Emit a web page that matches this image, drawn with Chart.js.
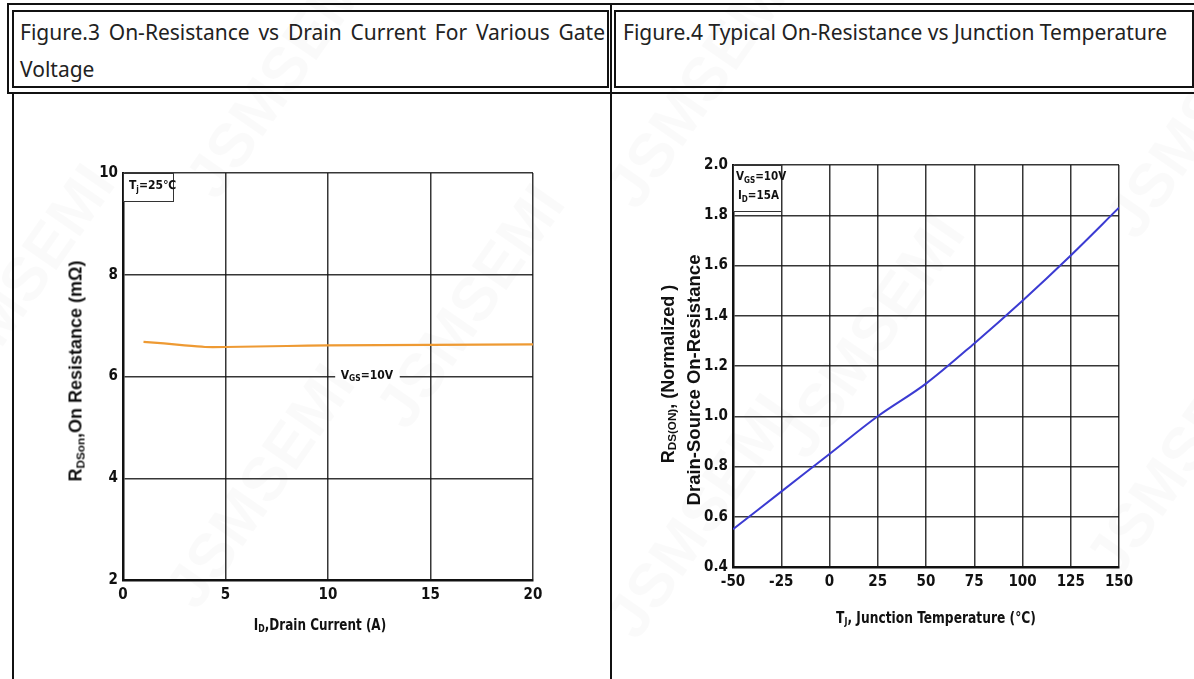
<!DOCTYPE html>
<html>
<head>
<meta charset="utf-8">
<script src="https://cdn.jsdelivr.net/npm/chart.js@4.4.1/dist/chart.umd.min.js"></script>
<style>
  html, body { margin: 0; padding: 0; background: #fff; }
  body { width: 1194px; height: 679px; position: relative; overflow: hidden; font-family: 'Noto Sans', 'Open Sans', sans-serif; }
  .box { position: absolute; border: 2px solid #111; box-sizing: border-box; }
  .line { position: absolute; background: #111; }
  .head { position: absolute; font-size: 21px; color: #222; line-height: 37px; }
  canvas { position: absolute; }
  .ttl { position: absolute; font-weight: bold; color: #111; white-space: nowrap; }
  .narrow { font-family: 'Liberation Sans Narrow', 'DejaVu Sans Condensed', 'Liberation Sans', sans-serif; }
  .wide { font-family: 'Liberation Sans', Arial, sans-serif; }
  .ttl sub { font-size: 65%; vertical-align: -0.25em; }
  .rot { transform: translate(-50%, -50%) rotate(-90deg); }
  .wm { position: absolute; font: bold 62px 'Liberation Sans', sans-serif; color: rgba(0,0,0,0.02); transform: rotate(-55deg); white-space: nowrap; }
</style>
</head>
<body>
<!-- watermarks -->
<div class="wm" style="left:140px;top:40px;">JSMSEMI</div>
<div class="wm" style="left:-120px;top:250px;">JSMSEMI</div>
<div class="wm" style="left:330px;top:270px;">JSMSEMI</div>
<div class="wm" style="left:120px;top:450px;">JSMSEMI</div>
<div class="wm" style="left:560px;top:50px;">JSMSEMI</div>
<div class="wm" style="left:730px;top:300px;">JSMSEMI</div>
<div class="wm" style="left:560px;top:480px;">JSMSEMI</div>
<div class="wm" style="left:1060px;top:80px;">JSMSEMI</div>
<div class="wm" style="left:1040px;top:420px;">JSMSEMI</div>

<!-- frame -->
<div class="box" style="left:7px;top:3px;width:1200px;height:91px;"></div>
<div class="box" style="left:12px;top:10px;width:597px;height:78px;"></div>
<div class="box" style="left:614px;top:10px;width:580px;height:78px;"></div>
<div class="line" style="left:610px;top:3px;width:2px;height:91px;"></div>
<div class="line" style="left:12px;top:94px;width:2px;height:585px;"></div>
<div class="line" style="left:610px;top:94px;width:2px;height:585px;"></div>

<div class="head" style="left:20px;top:14px;width:585px;text-align:justify;text-align-last:left;">Figure.3 On-Resistance vs Drain Current For Various Gate Voltage</div>
<div class="head" style="left:623px;top:14px;">Figure.4 Typical On-Resistance vs Junction Temperature</div>

<canvas id="grafico1" width="590" height="579" style="left:15px;top:100px;"></canvas>
<canvas id="grafico2" width="579" height="579" style="left:615px;top:100px;"></canvas>

<!-- axis titles -->
<div class="ttl narrow" style="left:320px;top:625px;font-size:15.5px;transform:translate(-50%,-50%) scaleX(0.86);">I<sub>D</sub>,Drain Current (A)</div>
<div class="ttl wide rot" style="left:76px;top:371px;font-size:18px;">R<sub>DSon</sub>,On Resistance (mΩ)</div>
<div class="ttl narrow" style="left:936px;top:618px;font-size:15.5px;transform:translate(-50%,-50%) scaleX(0.88);">T<sub>J</sub>, Junction Temperature (°C)</div>
<div class="ttl wide rot" style="left:668px;top:374px;font-size:18px;">R<sub>DS(ON)</sub>, (Normalized )</div>
<div class="ttl wide rot" style="left:694px;top:380px;font-size:18.5px;">Drain-Source On-Resistance</div>

<script>
// Fig.3 - Rds(on) x corrente de dreno
const correnteDreno = [1, 2, 3, 4, 5, 8, 10, 15, 20];
const rdsOnVgs10 = [6.68, 6.65, 6.61, 6.58, 6.58, 6.60, 6.61, 6.62, 6.63];
const ticksX1 = [0, 5, 10, 15, 20];
const ticksY1 = [2, 4, 6, 8, 10];

// Fig.4 - Rds(on) normalizado x temperatura de junção
const tempJuncao = [-50, -25, 0, 25, 50, 75, 100, 125, 150];
const rdsNormalizado = [0.55, 0.70, 0.85, 1.00, 1.13, 1.29, 1.46, 1.64, 1.83];
const ticksX2 = [-50, -25, 0, 25, 50, 75, 100, 125, 150];
const ticksY2 = [0.4, 0.6, 0.8, 1.0, 1.2, 1.4, 1.6, 1.8, 2.0];

const fonteEixo = { family: "'Liberation Sans Narrow', 'DejaVu Sans Condensed', sans-serif", size: 15, weight: 'bold' };
const corGrade = 'rgba(20,20,20,0.85)';

// escreve texto com partes subscritas no canvas
function textoSub(ctx, partes, x, y, tam, alinhar) {
    const fam = "'Liberation Sans Narrow', 'DejaVu Sans Condensed', sans-serif";
    let largura = 0;
    partes.forEach(p => {
        ctx.font = 'bold ' + (p.sub ? tam * 0.7 : tam) + 'px ' + fam;
        largura += ctx.measureText(p.t).width;
    });
    let cx = alinhar === 'center' ? x - largura / 2 : x;
    ctx.textBaseline = 'middle';
    ctx.textAlign = 'left';
    ctx.fillStyle = '#111';
    partes.forEach(p => {
        ctx.font = 'bold ' + (p.sub ? tam * 0.7 : tam) + 'px ' + fam;
        ctx.fillText(p.t, cx, p.sub ? y + tam * 0.3 : y);
        cx += ctx.measureText(p.t).width;
    });
}

function eixos(xMin, xMax, ticksX, yMin, yMax, ticksY, largY, decimais) {
    return {
        x: {
            type: 'linear', min: xMin, max: xMax,
            afterBuildTicks: s => { s.ticks = ticksX.map(v => ({ value: v })); },
            afterFit: s => { s.height = 30; },
            grid: { color: corGrade, lineWidth: 1.5, drawTicks: false },
            border: { color: '#111', width: 2.5 },
            ticks: { color: '#111', font: fonteEixo, padding: 6, maxRotation: 0 }
        },
        y: {
            type: 'linear', min: yMin, max: yMax,
            afterBuildTicks: s => { s.ticks = ticksY.map(v => ({ value: v })); },
            afterFit: s => { s.width = largY; },
            grid: { color: corGrade, lineWidth: 1.5, drawTicks: false },
            border: { color: '#111', width: 2.5 },
            ticks: { color: '#111', font: fonteEixo, padding: 5, callback: v => v.toFixed(decimais) }
        }
    };
}

const notasFig3 = {
    id: 'notasFig3',
    afterDatasetsDraw(chart) {
        const { ctx, chartArea: a, scales: { x, y } } = chart;
        ctx.save();
        // caixa Tj
        ctx.fillStyle = '#fff';
        ctx.fillRect(a.left + 1, a.top + 1, 50, 28);
        ctx.strokeStyle = '#333';
        ctx.lineWidth = 1;
        ctx.strokeRect(a.left + 0.5, a.top + 0.5, 50, 28);
        textoSub(ctx, [{ t: 'T' }, { t: 'j', sub: true }, { t: '=25℃' }], a.left + 6, a.top + 13, 12, 'left');
        // rótulo Vgs sobre a linha de 6
        const yy = y.getPixelForValue(6);
        ctx.fillStyle = '#fff';
        ctx.fillRect(x.getPixelForValue(10.35), yy - 3, x.getPixelForValue(13.5) - x.getPixelForValue(10.35), 6);
        textoSub(ctx, [{ t: 'V' }, { t: 'GS', sub: true }, { t: '=10V' }], x.getPixelForValue(11.9), yy - 1, 12, 'center');
        ctx.restore();
    }
};

const notasFig4 = {
    id: 'notasFig4',
    afterDatasetsDraw(chart) {
        const { ctx, chartArea: a } = chart;
        ctx.save();
        ctx.fillStyle = '#fff';
        ctx.fillRect(a.left + 1, a.top + 1, 48, 46);
        ctx.strokeStyle = '#333';
        ctx.lineWidth = 1;
        ctx.strokeRect(a.left + 0.5, a.top + 0.5, 48, 46);
        textoSub(ctx, [{ t: 'V' }, { t: 'GS', sub: true }, { t: '=10V' }], a.left + 3, a.top + 12, 11.5, 'left');
        textoSub(ctx, [{ t: 'I' }, { t: 'D', sub: true }, { t: '=15A' }], a.left + 5, a.top + 31, 11.5, 'left');
        ctx.restore();
    }
};

new Chart(document.getElementById('grafico1').getContext('2d'), {
    type: 'line',
    data: {
        datasets: [{
            data: correnteDreno.map((x, i) => ({ x, y: rdsOnVgs10[i] })),
            borderColor: '#ee9a33',
            borderWidth: 2.2,
            pointRadius: 0,
            fill: false,
            tension: 0.2
        }]
    },
    options: {
        responsive: false,
        animation: false,
        layout: { padding: { left: 0, top: 73, right: 72, bottom: 69 } },
        scales: eixos(0, 20, ticksX1, 2, 10, ticksY1, 108, 0),
        plugins: { legend: { display: false }, tooltip: { enabled: false } }
    },
    plugins: [notasFig3]
});

new Chart(document.getElementById('grafico2').getContext('2d'), {
    type: 'line',
    data: {
        datasets: [{
            data: tempJuncao.map((x, i) => ({ x, y: rdsNormalizado[i] })),
            borderColor: '#3b3bd2',
            borderWidth: 2,
            pointRadius: 0,
            fill: false,
            cubicInterpolationMode: 'monotone'
        }]
    },
    options: {
        responsive: false,
        animation: false,
        layout: { padding: { left: 0, top: 65, right: 75, bottom: 82 } },
        scales: eixos(-50, 150, ticksX2, 0.4, 2.0, ticksY2, 118, 1),
        plugins: { legend: { display: false }, tooltip: { enabled: false } }
    },
    plugins: [notasFig4]
});
</script>
</body>
</html>
